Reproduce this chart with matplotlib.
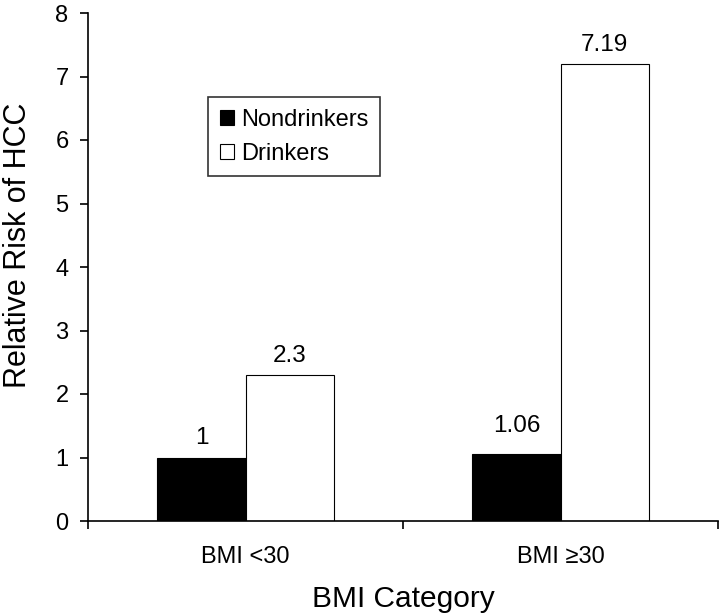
import matplotlib
matplotlib.use("Agg")
import matplotlib.pyplot as plt
import numpy as np

categories = ["BMI <30", "BMI \u226530"]
nondrinkers = [1, 1.06]
drinkers = [2.3, 7.19]
nondrinker_labels = ["1", "1.06"]
drinker_labels = ["2.3", "7.19"]

plt.rcParams['font.family'] = ['Liberation Sans', 'DejaVu Sans']

fig = plt.figure(figsize=(7.2, 6.14), dpi=100)
ax = fig.add_axes([88/720, 1-521/614, (718-88)/720, (521-13)/614])

x = np.arange(len(categories))
w = 0.28
b1 = ax.bar(x - w/2, nondrinkers, w, color='black', edgecolor='black', linewidth=0.8, label='Nondrinkers')
b2 = ax.bar(x + w/2, drinkers, w, color='white', edgecolor='black', linewidth=0.8, label='Drinkers')

nd_offsets = [0.13, 0.27]
for rect, lab, off in zip(b1, nondrinker_labels, nd_offsets):
    ax.text(rect.get_x() + rect.get_width()/2, rect.get_height() + off, lab,
            ha='center', va='bottom', fontsize=17.5)
for rect, lab in zip(b2, drinker_labels):
    ax.text(rect.get_x() + rect.get_width()/2, rect.get_height() + 0.13, lab,
            ha='center', va='bottom', fontsize=17.5)

ax.set_xlim(-0.5, 1.5)
ax.set_ylim(0, 8)
ax.set_yticks(range(0, 9))
ax.tick_params(axis='y', direction='out', length=6, width=1.2, labelsize=17, pad=8)
ax.set_xticks([-0.5, 0.5, 1.5])
ax.set_xticklabels([])
ax.set_xticks(x, minor=True)
ax.set_xticklabels(categories, minor=True)
ax.tick_params(axis='x', which='major', direction='out', length=6, width=1.2)
ax.tick_params(axis='x', which='minor', length=0, labelsize=17, pad=18)

for s in ['top', 'right']:
    ax.spines[s].set_visible(False)
ax.spines['left'].set_linewidth(1.2)
ax.spines['bottom'].set_linewidth(1.2)

ax.set_ylabel('Relative Risk of HCC', fontsize=22)
ax.yaxis.set_label_coords(-0.088, 0.543)
ax.set_xlabel('BMI Category', fontsize=21.5, labelpad=12)

leg = ax.legend(loc='upper left', bbox_to_anchor=((208-88)/630, (521-97)/508),
                fontsize=17, frameon=True, fancybox=False, edgecolor='black',
                handlelength=0.6, handleheight=0.6, handletextpad=0.3,
                borderpad=0.5, labelspacing=0.5, borderaxespad=0)
leg.get_frame().set_linewidth(1.2)

fig.savefig('out.png', dpi=100)
